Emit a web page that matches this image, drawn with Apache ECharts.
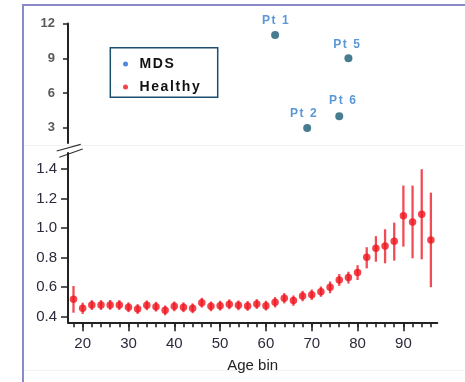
<!DOCTYPE html>
<html><head><meta charset="utf-8">
<script src="https://cdn.jsdelivr.net/npm/echarts@6/dist/echarts.min.js"></script>
<style>html,body{margin:0;padding:0;background:#fff}#c{width:465px;height:382px}</style>
</head><body><div id="c"></div>
<script>
// ---- data ----
const ages = [18,20,22,24,26,28,30,32,34,36,38,40,42,44,46,48,50,52,54,56,58,60,62,64,66,68,70,72,74,76,78,80,82,84,86,88,90,92,94,96];
const healthyMean = [0.518,0.457,0.479,0.479,0.480,0.479,0.464,0.452,0.477,0.468,0.443,0.470,0.464,0.457,0.495,0.470,0.475,0.484,0.477,0.473,0.486,0.475,0.498,0.525,0.509,0.540,0.549,0.570,0.599,0.649,0.665,0.699,0.803,0.864,0.880,0.911,1.085,1.042,1.095,0.920];
const healthyLow  = [0.427,0.419,0.446,0.446,0.447,0.446,0.431,0.419,0.444,0.435,0.410,0.437,0.431,0.424,0.462,0.437,0.442,0.451,0.444,0.440,0.453,0.442,0.463,0.490,0.474,0.505,0.514,0.535,0.559,0.609,0.625,0.649,0.728,0.773,0.762,0.780,0.875,0.796,0.789,0.600];
const healthyHigh = [0.608,0.495,0.512,0.512,0.513,0.512,0.497,0.485,0.510,0.501,0.476,0.503,0.497,0.490,0.528,0.503,0.508,0.517,0.510,0.506,0.519,0.508,0.533,0.560,0.544,0.575,0.584,0.605,0.639,0.689,0.705,0.749,0.871,0.946,0.993,1.038,1.289,1.289,1.400,1.241];
const mdsAge = [62,69,76,78];
const mdsValue = [11,3,4,9];
const mdsLabels = ['Pt 1','Pt 2','Pt 6','Pt 5'];
const xMajorTicks = [20,30,40,50,60,70,80,90];
const yTopTicks = [3,6,9,12];
const yBottomTicks = [0.4,0.6,0.8,1.0,1.2,1.4];
const seriesNames = ['MDS','Healthy'];
const xTitle = 'Age bin';

// letter spacing for the spaced bold texts (legend and patient labels)
(function(){
  const P = CanvasRenderingContext2D.prototype;
  const orig = P.fillText;
  P.fillText = function(t, x, y, w){
    const f = this.font || '';
    const prev = this.letterSpacing;
    if (/bold 14px/.test(f)) this.letterSpacing = '1.6px';
    else if (/bold 12px/.test(f)) this.letterSpacing = '1.6px';
    const r = w === undefined ? orig.call(this, t, x, y) : orig.call(this, t, x, y, w);
    this.letterSpacing = prev || '0px';
    return r;
  };
})();

// ---- chart ----
const FONT = 'Liberation Sans, Arial, sans-serif';
const chart = echarts.init(document.getElementById('c'), null, {renderer:'canvas'});
const gx = 68, gw = 369.3;
const xMin = 16.8, xMax = 97.4;
const labelOffsets = [[1,0],[-3,0],[4,-2],[-1,0]];

const axisLineStyle = {color:'#222', width:2};
const option = {
  animation:false,
  backgroundColor:'#fff',
  grid:[
    {left:gx, top:23.5, width:gw, height:119.5},
    {left:gx, top:153, width:gw, height:169.3},
    {left:gx, top:153, width:gw, height:169.3}
  ],
  xAxis:[
    {type:'value', gridIndex:0, min:xMin, max:xMax, show:false},
    {type:'value', gridIndex:1, min:xMin, max:xMax,
      axisLine:{onZero:false, lineStyle:axisLineStyle},
      axisTick:{customValues:ages, length:5, lineStyle:{color:'#222', width:1.6}},
      axisLabel:{customValues:xMajorTicks, fontSize:15, color:'#2a2a3c', margin:14, fontFamily:FONT},
      splitLine:{show:false},
      name:xTitle, nameLocation:'middle', nameGap:36,
      nameTextStyle:{fontSize:15, color:'#222', fontFamily:FONT}},
    {type:'value', gridIndex:2, min:xMin, max:xMax,
      axisLine:{show:false, onZero:false},
      axisTick:{customValues:xMajorTicks, length:9, lineStyle:{color:'#222', width:1.6}},
      axisLabel:{show:false}, splitLine:{show:false}}
  ],
  yAxis:[
    {type:'value', gridIndex:0, min:1.7, max:12,
      axisLine:{show:true, onZero:false, lineStyle:axisLineStyle},
      axisTick:{show:true, customValues:yTopTicks, length:5, lineStyle:{color:'#222', width:1.5}},
      axisLabel:{customValues:yTopTicks, fontSize:13, fontWeight:'bold', color:'#5a5a5a', margin:13, fontFamily:FONT},
      splitLine:{show:false}},
    {type:'value', gridIndex:1, min:0.362, max:1.51,
      axisLine:{show:true, onZero:false, lineStyle:axisLineStyle},
      axisTick:{show:true, customValues:yBottomTicks, length:7, lineStyle:{color:'#222', width:1.5}},
      axisLabel:{customValues:yBottomTicks, formatter:v=>v.toFixed(1), fontSize:15, color:'#2a2a3c', margin:11, fontFamily:FONT},
      splitLine:{show:false}},
    {type:'value', gridIndex:2, min:0.362, max:1.51, show:false}
  ],
  legend:{
    orient:'vertical', left:118, top:52, itemWidth:18, itemHeight:5, itemGap:9,
    icon:'circle',
    textStyle:{fontSize:14, fontWeight:'bold', color:'#111', lineHeight:14, fontFamily:FONT},
    data:[
      {name:seriesNames[0], itemStyle:{color:'#1f6ed4'}},
      {name:seriesNames[1], itemStyle:{color:'#f0141e'}}
    ]
  },
  graphic:[
    {type:'line', shape:{x1:23, y1:5, x2:23, y2:382}, style:{stroke:'#8a8ac6', lineWidth:2}, silent:true},
    {type:'line', shape:{x1:22, y1:5, x2:465, y2:5}, style:{stroke:'#8a8ac6', lineWidth:2}, silent:true},
    {type:'line', shape:{x1:24, y1:145.5, x2:465, y2:145.5}, style:{stroke:'#f3f3f3', lineWidth:1}, silent:true},
    {type:'line', shape:{x1:24, y1:370.5, x2:465, y2:370.5}, style:{stroke:'#f3f3f3', lineWidth:1}, silent:true},
    {type:'line', shape:{x1:56.7, y1:151, x2:80.7, y2:144.3}, style:{stroke:'#333', lineWidth:1.2}, silent:true},
    {type:'line', shape:{x1:59.3, y1:157.3, x2:82.7, y2:149}, style:{stroke:'#333', lineWidth:1.2}, silent:true},
    {type:'rect', shape:{x:110.3, y:47.7, width:107.4, height:49.6}, style:{fill:'none', stroke:'#1d4f6e', lineWidth:1.5}, silent:true}
  ],
  series:[
    {name:seriesNames[0], type:'scatter', xAxisIndex:0, yAxisIndex:0, symbolSize:8,
      itemStyle:{color:'#1a5b76'},
      label:{show:true, position:'top', distance:4, formatter:p=>p.name, fontSize:12, fontWeight:'bold', color:'#2f7dd1', fontFamily:FONT},
      data:mdsAge.map((a,i)=>({value:[a, mdsValue[i]], name:mdsLabels[i], label:{offset:labelOffsets[i]}}))},
    {type:'custom', xAxisIndex:1, yAxisIndex:1,
      encode:{x:0, y:[1,2]},
      renderItem:(params, api)=>{
        const p1 = api.coord([api.value(0), api.value(1)]);
        const p2 = api.coord([api.value(0), api.value(2)]);
        return {type:'line', shape:{x1:p1[0], y1:p1[1], x2:p2[0], y2:p2[1]},
          style:{stroke:'#ee2d38', lineWidth:2.3, opacity:0.85}};
      },
      data:ages.map((a,i)=>[a, healthyLow[i], healthyHigh[i]]), z:2},
    {name:seriesNames[1], type:'scatter', xAxisIndex:1, yAxisIndex:1, symbolSize:7.5,
      itemStyle:{color:'#f0141e'},
      data:ages.map((a,i)=>[a, healthyMean[i]]), z:3}
  ]
};
chart.setOption(option);
</script></body></html>
